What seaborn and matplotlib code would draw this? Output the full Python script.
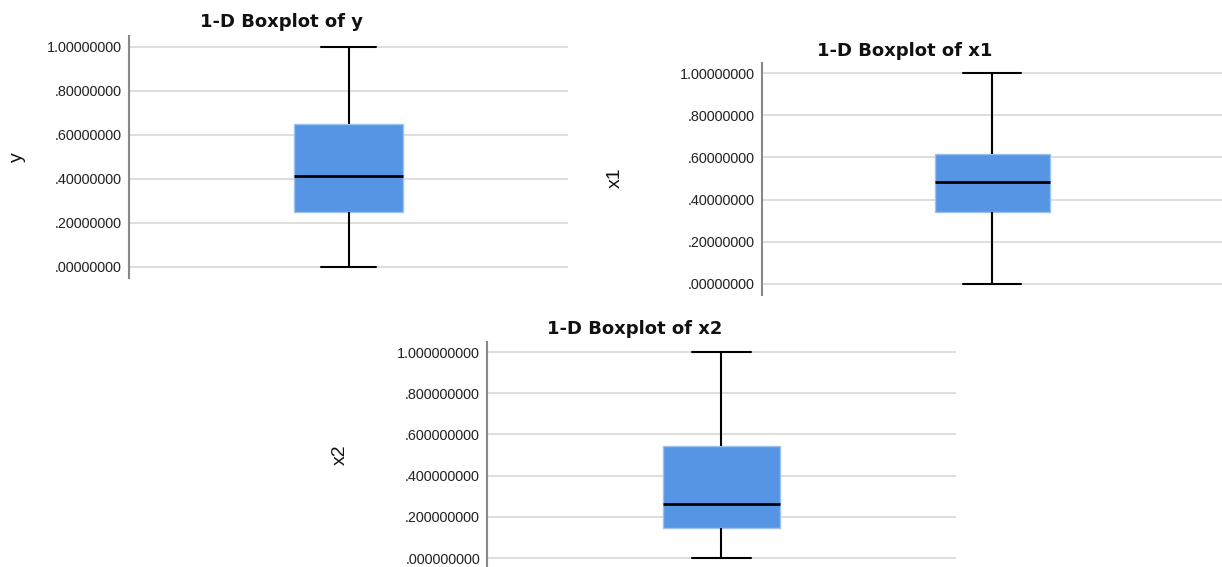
import matplotlib
matplotlib.use("Agg")
import matplotlib.pyplot as plt
import seaborn as sns
import pandas as pd

# ---- data (five-number summaries) ----
y_values = [0.0, 0.248, 0.412, 0.648, 1.0]
x1_values = [0.0, 0.341, 0.483, 0.614, 1.0]
x2_values = [0.0, 0.146, 0.260, 0.544, 1.0]

tick_values = [0.0, 0.2, 0.4, 0.6, 0.8, 1.0]
ticklabels_8 = [".00000000", ".20000000", ".40000000", ".60000000", ".80000000", "1.00000000"]
ticklabels_9 = [".000000000", ".200000000", ".400000000", ".600000000", ".800000000", "1.000000000"]

titles = ["1-D Boxplot of y", "1-D Boxplot of x1", "1-D Boxplot of x2"]
names = ["y", "x1", "x2"]

sns.set_theme(style="white")
plt.rcParams["font.family"] = ["Liberation Sans", "DejaVu Sans"]

W, H = 1222, 567
fig = plt.figure(figsize=(W / 100, H / 100), dpi=100)


def add_ax(left, right, top, bottom):
    return fig.add_axes([left / W, 1 - bottom / H, (right - left) / W, (bottom - top) / H])


# pixel layouts: (left, right, top, bottom), title center, ylabel center
layouts = [
    dict(rect=(129, 568, 36, 278), title=(281, 22), ylab=(17, 157), labels=ticklabels_8),
    dict(rect=(762, 1222, 62.5, 294.5), title=(905, 51), ylab=(615, 178), labels=ticklabels_8),
    dict(rect=(487, 956, 341.7, 568.3), title=(635, 329), ylab=(340, 455), labels=ticklabels_9),
]
datasets = [y_values, x1_values, x2_values]

fill = "#5595E3"
for vals, name, title, lay in zip(datasets, names, titles, layouts):
    l, r, t, b = lay["rect"]
    ax = add_ax(l, r, t, b)
    df = pd.DataFrame({name: vals})
    sns.boxplot(
        data=df, y=name, ax=ax, whis=(0, 100), width=0.25,
        color=fill, saturation=1, linecolor="black", linewidth=1.5,
        boxprops=dict(facecolor=fill, edgecolor="#9cc2ee", linewidth=1.0),
        medianprops=dict(color="black", linewidth=2.0),
        whiskerprops=dict(color="black", linewidth=1.5),
        capprops=dict(color="black", linewidth=1.5),
        showfliers=False, zorder=3,
    )
    ax.set_xlim(-0.5, 0.5)
    ax.set_ylim(-0.05, 1.05)
    ax.set_yticks(tick_values)
    ax.set_yticklabels(lay["labels"], fontsize=10.4, color="#222222")
    ax.tick_params(axis="y", length=0, pad=5)
    ax.set_xticks([])
    ax.set_xlabel("")
    ax.yaxis.grid(True, color="#d4d4d4", linewidth=1.1)
    ax.set_axisbelow(True)
    for s in ["top", "right", "bottom"]:
        ax.spines[s].set_visible(False)
    ax.spines["left"].set_color("#888888")
    ax.spines["left"].set_linewidth(1.5)
    ax.set_ylabel(name, fontsize=14, color="#111111", va="center", ha="center")
    ylx, yly = lay["ylab"]
    ax.yaxis.set_label_coords((ylx - l) / (r - l), (b - yly) / (b - t))
    tx, ty = lay["title"]
    fig.text(tx / W, 1 - ty / H, title, ha="center", va="center",
             fontsize=13, fontweight="bold", color="#111111",
             family=["DejaVu Sans"])

fig.savefig("out.png", dpi=100)
